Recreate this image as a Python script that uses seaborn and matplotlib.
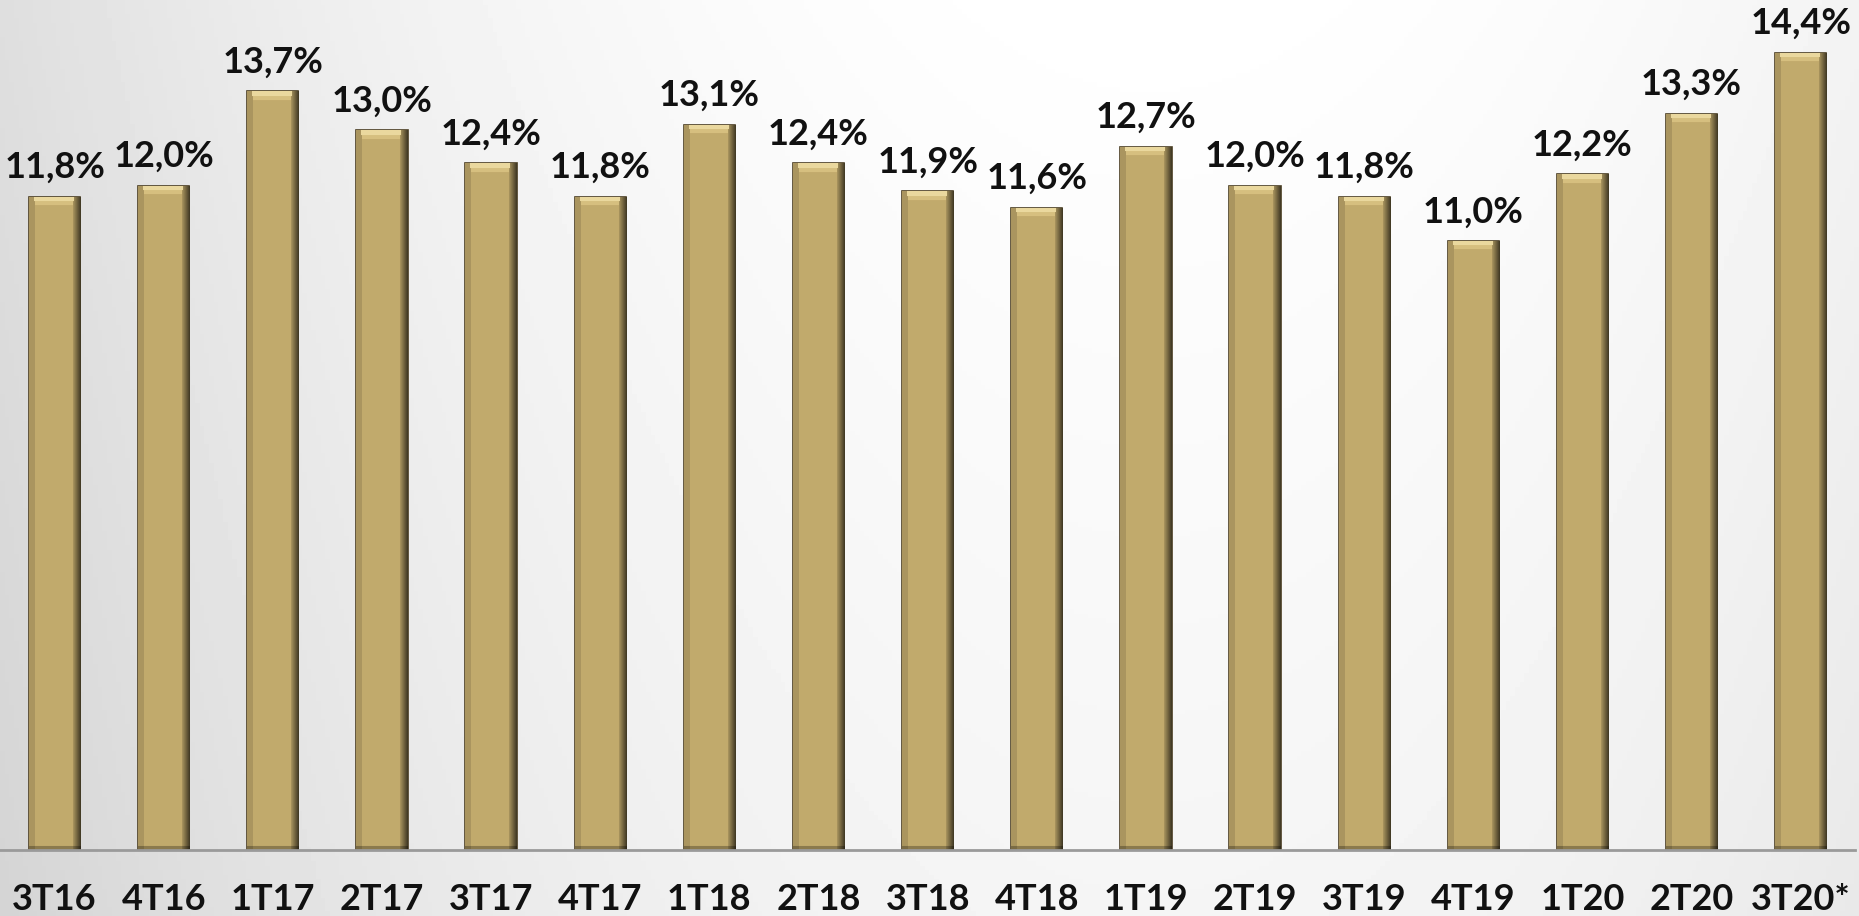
import numpy as np
import pandas as pd
import seaborn as sns
import matplotlib.pyplot as plt

# Quarterly values (%)
quarters = ["3T16", "4T16", "1T17", "2T17", "3T17", "4T17", "1T18", "2T18", "3T18",
            "4T18", "1T19", "2T19", "3T19", "4T19", "1T20", "2T20", "3T20*"]
values = [11.8, 12.0, 13.7, 13.0, 12.4, 11.8, 13.1, 12.4, 11.9,
          11.6, 12.7, 12.0, 11.8, 11.0, 12.2, 13.3, 14.4]

df = pd.DataFrame({"quarter": quarters, "value": values})

sns.set_style("white")
plt.rcParams['font.family'] = ['Lato', 'DejaVu Sans']

fig = plt.figure(figsize=(18.59, 9.16), dpi=100)

# background gradient (gray edges, lighter centre)
bg = fig.add_axes([0, 0, 1, 1], zorder=-1)
xs = np.linspace(0, 1, 400)
ys = np.linspace(0, 1, 200)
X, Y = np.meshgrid(xs, ys)
shade = 0.86 + 0.14 * np.clip(1 - ((X - 0.62) / 0.65) ** 2, 0, 1) - 0.04 * Y
bg.imshow(shade, cmap="gray", vmin=0, vmax=1, aspect="auto", extent=[0, 1, 0, 1])
bg.axis("off")

ax = fig.add_axes([0.0, 66 / 916, 0.998, 850 / 916])
ax.patch.set_alpha(0)

sns.barplot(data=df, x="quarter", y="value", color="#C2AA6C", width=0.47,
            edgecolor="#4a3d22", linewidth=1.2, saturation=1, ax=ax)

# bevel look: shade each bar with a gradient clipped to the bar
base = np.array([0.76, 0.667, 0.424])
for bar in ax.containers[0]:
    x0, y0 = bar.get_x(), bar.get_y()
    w, h = bar.get_width(), bar.get_height()
    rows = int(h * 55)
    u = np.linspace(0, 1, 52)
    horiz = np.ones_like(u)
    horiz[u < 0.1] = 0.88
    horiz[u > 0.85] = np.linspace(0.85, 0.35, (u > 0.85).sum())
    img = np.tile(horiz, (rows, 1))[..., None] * base
    # light cap at the top
    img[:5, 5:45] = [0.92, 0.85, 0.62]
    img[5:9, 6:44] = [0.84, 0.75, 0.50]
    img[-4:] *= 0.72
    im = ax.imshow(np.clip(img, 0, 1), extent=[x0, x0 + w, y0, y0 + h],
                   aspect="auto", zorder=bar.get_zorder() + 0.1, origin="upper",
                   interpolation="bilinear")
    im.set_clip_path(bar)

labels = [f"{v:.1f}%".replace(".", ",") for v in values]
ax.bar_label(ax.containers[0], labels=labels, padding=9,
             fontsize=26, fontweight="bold", color="#111111")

ax.set_ylim(0, 15.35)
ax.set_xlim(-0.5, len(quarters) - 0.5)
ax.set_xlabel("")
ax.set_ylabel("")
ax.set_yticks([])
ax.tick_params(axis="x", length=0, pad=24, labelsize=26)
for t in ax.get_xticklabels():
    t.set_fontweight("bold")
    t.set_color("#111111")

for side in ["top", "left", "right"]:
    ax.spines[side].set_visible(False)
ax.spines["bottom"].set_color("#9a9a9a")
ax.spines["bottom"].set_linewidth(2)
ax.spines["bottom"].set_zorder(5)

plt.savefig("out.png", dpi=100)
plt.close()
